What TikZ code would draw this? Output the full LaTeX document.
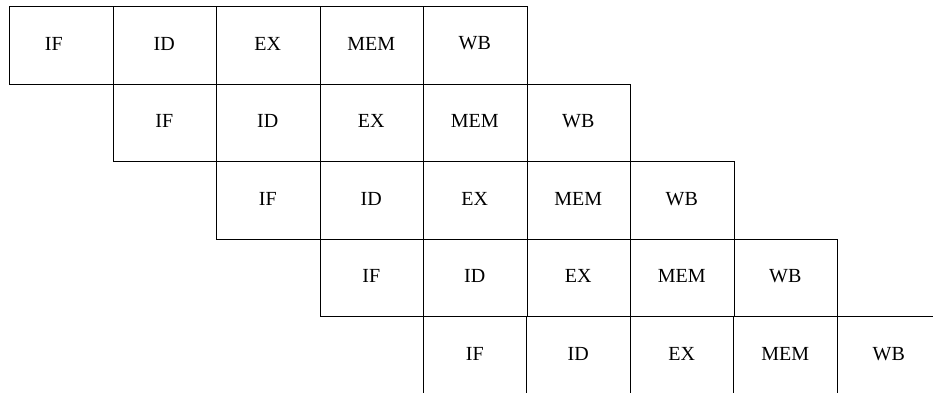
\documentclass[tikz,border=0pt]{standalone}
\usepackage{fontspec}
\setmainfont{Liberation Serif}
\begin{document}
\begin{tikzpicture}[x=1pt,y=-1pt,
  cell/.style={draw=black,line width=0.8pt,minimum width=103.5pt,minimum height=77.6pt,inner sep=0pt,anchor=north west},
  stage/.style={font=\fontsize{20}{22}\selectfont,inner sep=0pt},
  gridline/.style={draw=black,line width=0.8pt}]
\useasboundingbox (0,0) rectangle (933,393);
% cells of rows 1-4
\foreach \r in {0,1,2,3}{
  \foreach \s in {0,...,4}{
    \pgfmathsetmacro{\cx}{9+103.5*(\r+\s)}
    \pgfmathsetmacro{\cy}{6+77.6*\r}
    \node[cell] (c\r\s) at (\cx,\cy) {};
  }
}
% row 5 (cut off at the bottom)
\foreach \s in {0,...,4}{
  \pgfmathsetmacro{\cx}{9+103.5*(4+\s)}
  \coordinate (c4\s) at (\cx,316.4);
  \coordinate (b4\s) at (\cx,393);
}
\coordinate (r5end) at (933,316.4);
\draw[gridline] (c40) -- (r5end);
\foreach \s in {0,...,4}{ \draw[gridline] (c4\s) -- (b4\s); }
% labels
\foreach \r in {0,...,4}{
  \foreach \s/\t in {0/IF,1/ID,2/EX,3/MEM,4/WB}{
    \pgfmathsetmacro{\tx}{9+103.5*(\r+\s)+51.75-(\r==0)*(\s==0)*7}
    \pgfmathsetmacro{\ty}{6+77.6*\r+37.5}
    \node[stage] (t\r\s) at (\tx,\ty) {\t};
  }
}
\end{tikzpicture}
\end{document}
